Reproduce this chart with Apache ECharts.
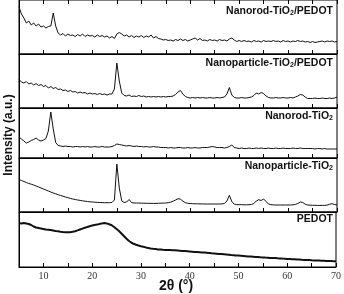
<!DOCTYPE html>
<html>
<head>
<meta charset="utf-8">
<script src="https://cdn.jsdelivr.net/npm/echarts@6/dist/echarts.min.js"></script>
<style>html,body{margin:0;padding:0;background:#fff}#c{width:344px;height:294px}</style>
</head>
<body>
<div id="c"></div>
<script>
// 2θ grid (degrees), 5 → 70 in 0.5° steps
const twoTheta = [];
for (let k = 0; k <= 130; k++) twoTheta.push(5 + k * 0.5);

const xTicks = [10, 20, 30, 40, 50, 60, 70];

const seriesNames = ['Nanorod-TiO2/PEDOT', 'Nanoparticle-TiO2/PEDOT', 'Nanorod-TiO2', 'Nanoparticle-TiO2', 'PEDOT'];

// intensities (a.u.), one value per 2θ point
const nanorodPedot = [
  47, 40, 36, 31, 33, 29, 31, 28, 30, 27,
  28, 26, 27.5, 28, 41, 28, 21, 19, 20.5, 18,
  20, 18.5, 19, 17.5, 19.5, 18, 20, 17.5, 19, 18,
  18.5, 17, 19, 17.5, 18.5, 17, 18, 16, 17.5, 15.5,
  20, 21.5, 20, 18, 19, 17, 18.5, 16.5, 18, 17,
  18.5, 16.5, 18, 17, 19, 16, 17.5, 15.5, 15, 14,
  14.5, 13.5, 14, 13, 14.5, 13.5, 15, 13.5, 14.5, 13,
  14, 15, 16, 14, 15.5, 13.5, 14, 13, 14.5, 13.5,
  14, 13, 14.5, 13.5, 14, 13, 15, 16, 14, 12.5,
  13.5, 12.5, 13.5, 12.5, 13, 12, 13.5, 12.5, 13, 12,
  13.5, 12.5, 13, 12.5, 13.5, 12.5, 13, 12, 13.5, 12.5,
  13, 12, 13, 12.5, 13.5, 12.5, 13, 12, 12.5, 11.5,
  12.5, 11.5, 12, 12.5, 13, 12, 13, 12.5, 13, 12,
  12.5
];
const nanoparticlePedot = [
  28.5, 26, 25, 26.5, 24, 25, 23, 24.5, 22.5, 23.5,
  21.5, 22.5, 20, 21.5, 19.5, 20.5, 18.5, 19, 17.5, 18,
  16.5, 17.5, 16, 16.5, 15, 16, 15, 15.5, 14, 15,
  14, 14.5, 13.5, 14.5, 13.5, 14, 13, 14, 14, 19,
  45, 27, 15, 12.5, 12, 13, 11.5, 12, 11.5, 12.5,
  11.5, 12, 11, 11.5, 11, 11.5, 11, 11.5, 11, 11.5,
  11, 11.5, 11.5, 12, 13.5, 16, 17.5, 14, 11.5, 10.5,
  10, 10.5, 10, 10.5, 10, 10.5, 10, 10, 10.5, 10,
  10, 10.5, 10, 10.5, 11, 14, 20.5, 13, 10.5, 10,
  10, 10.5, 10, 10, 10.5, 11, 12.5, 15, 14, 15.5,
  14.5, 12, 10.5, 10, 10, 10.5, 10, 10, 10.5, 10,
  10, 10.5, 10, 11, 12, 13.5, 13, 11, 9.5, 9.5,
  9.5, 10, 9.5, 9.5, 10, 9.5, 9.5, 10, 9.5, 10,
  11
];
const nanorodTiO2 = [
  21, 19, 17, 15, 16, 17.5, 18.5, 20, 18, 17,
  18, 19.5, 27, 46, 29, 15.5, 12.5, 12, 11.5, 12,
  11.5, 11.5, 11, 11.5, 11.5, 11, 11.5, 11, 11.5, 11,
  11, 11.5, 11, 11, 11.5, 11, 11, 11, 11.5, 12.5,
  14, 13.5, 13, 12.5, 12, 12.5, 12, 11.5, 12, 11.5,
  11.5, 11, 11.5, 11, 11, 11.5, 11, 11, 10.5, 10.5,
  10.5, 10, 10.5, 10, 10, 10.5, 10.5, 10, 10, 10.5,
  10, 10, 10.5, 10, 10, 10.5, 10.5, 10.5, 11, 11.5,
  11, 10.5, 10.5, 10.5, 10, 10.5, 11.5, 13, 10.5, 10,
  9.5, 10, 9.5, 9.5, 10, 9.5, 9.5, 10, 9.5, 10,
  9.5, 9.5, 10, 9.5, 9.5, 10, 9.5, 9.5, 10, 9.5,
  9.5, 9.5, 10, 9.5, 9.5, 10, 9.5, 9.5, 9.5, 9.5,
  9.5, 9, 9.5, 9.5, 9, 9.5, 9, 9, 9, 9,
  9
];
const nanoparticleTiO2 = [
  32.5, 31.5, 30.5, 29.5, 28.5, 27.8, 27, 26, 25, 24,
  23, 22, 21, 20, 19, 18.2, 17.3, 16.5, 15.8, 15,
  14.3, 13.6, 13, 12.5, 12, 11.6, 11.2, 10.8, 10.5, 10.2,
  10, 9.8, 9.6, 9.5, 9.4, 9.3, 9.3, 9.3, 9.5, 12,
  48, 24, 11, 9.5, 10, 12.5, 9.5, 9, 9, 9,
  8.8, 8.8, 8.7, 8.7, 8.6, 8.6, 8.6, 8.7, 8.8, 8.9,
  9, 9.3, 9.8, 10.8, 12, 13.3, 12.8, 10.8, 9.3, 8.7,
  8.4, 8.3, 8.2, 8.2, 8.1, 8.1, 8, 8, 8, 8,
  8, 8, 8, 8.1, 8.5, 11, 16.7, 10.5, 7.8, 7.4,
  7.3, 7.3, 7.2, 7.2, 7.3, 7.5, 8.5, 11, 12.3, 11.5,
  13, 10.5, 8, 7.3, 7.1, 7, 7, 7, 7, 7,
  7, 7, 7.2, 7.6, 8.5, 10, 9.5, 7.8, 7, 6.8,
  6.7, 6.7, 6.6, 6.6, 6.6, 6.7, 6.9, 7.8, 8.3, 7.5,
  7
];
const pedot = [
  44, 43.5, 44, 43.5, 43, 42, 40.5, 39.5, 39, 38.5,
  38, 37.5, 37.3, 37, 36.5, 36, 35.7, 35.3, 35, 34.8,
  34.7, 34.8, 35.2, 35.8, 36.6, 37.5, 38.4, 39.3, 40, 40.8,
  41.5, 42, 42.4, 43, 43.6, 44, 43.6, 42.8, 41.8, 40,
  38, 36, 33.5, 31, 28.5, 26.2, 24.5, 23.2, 22.3, 21.5,
  20.8, 20.2, 19.6, 19.1, 18.6, 18.2, 17.9, 17.6, 17.4, 17.2,
  17.1, 17, 16.9, 16.8, 16.7, 16.5, 16.3, 16.1, 15.9, 15.7,
  15.5, 15.3, 15.1, 15, 14.8, 14.6, 14.4, 14.2, 14, 13.7,
  13.5, 13.3, 13.1, 12.9, 12.7, 12.5, 12.3, 12, 11.8, 11.6,
  11.4, 11.2, 11, 10.8, 10.6, 10.4, 10.2, 10, 9.9, 9.7,
  9.6, 9.4, 9.3, 9.1, 9, 8.9, 8.7, 8.6, 8.4, 8.3,
  8.1, 8, 7.8, 7.7, 7.5, 7.4, 7.2, 7.1, 7, 6.9,
  6.7, 6.6, 6.5, 6.4, 6.3, 6.2, 6.1, 6, 5.9, 5.8,
  5.7
];

const seriesValues = [nanorodPedot, nanoparticlePedot, nanorodTiO2, nanoparticleTiO2, pedot];

// ---- layout (not data) ----
const panelTop = [0, 54, 108, 158, 212];
const panelH = [54, 54, 50, 54, 55];
const lineW = [1, 1, 1, 1, 2];
const labelTop = [5, 57, 110, 160, 214];

const grids = [], xAxes = [], yAxes = [], series = [], titles = [];
const sansBold = "'Liberation Sans', Arial, sans-serif";
const serif = "'Liberation Serif', 'Times New Roman', serif";

function richName(name) {
  return name.replace('TiO2', 'TiO{s|2}');
}

for (let i = 0; i < 5; i++) {
  grids.push({ left: 19, right: 7, top: panelTop[i], height: panelH[i], show: true, borderColor: '#000', borderWidth: 1, backgroundColor: 'transparent' });
  const last = i === 4;
  xAxes.push({
    type: 'value', gridIndex: i, min: 5, max: 70, interval: 5, position: 'bottom',
    axisLine: { show: true, lineStyle: { color: '#000', width: 1 } },
    axisTick: { show: true, inside: true, length: 4, lineStyle: { color: '#000' } },
    axisLabel: last ? {
      show: true, margin: 4, color: '#333', fontFamily: serif, fontSize: 10,
      formatter: v => (xTicks.indexOf(v) >= 0 ? String(v) : '')
    } : { show: false },
    splitLine: { show: false }
  });
  yAxes.push({
    type: 'value', gridIndex: i, min: 0, max: panelH[i],
    axisLine: { show: true, lineStyle: { color: '#000' } },
    axisTick: { show: false }, axisLabel: { show: false }, splitLine: { show: false }
  });
  series.push({
    name: seriesNames[i], type: 'line', xAxisIndex: i, yAxisIndex: i,
    data: twoTheta.map((t, k) => [t, seriesValues[i][k]]),
    showSymbol: false, symbol: 'none', smooth: false,
    lineStyle: { color: '#111', width: lineW[i] }, silent: true, animation: false
  });
  titles.push({
    text: richName(seriesNames[i]), right: 11, top: labelTop[i], padding: 0,
    textStyle: {
      fontFamily: sansBold, fontWeight: 'bold', fontSize: 10.5, color: '#111',
      rich: { s: { fontFamily: sansBold, fontWeight: 'bold', fontSize: 7, color: '#111', verticalAlign: 'bottom', padding: [5, 0, 0, 0] } }
    }
  });
}
// top ticks of the first panel
xAxes.push({
  type: 'value', gridIndex: 0, min: 5, max: 70, interval: 5, position: 'top',
  axisLine: { show: false },
  axisTick: { show: true, inside: true, length: 4, lineStyle: { color: '#000' } },
  axisLabel: { show: false }, splitLine: { show: false }
});

const chart = echarts.init(document.getElementById('c'), null, { renderer: 'canvas' });
chart.setOption({
  animation: false,
  backgroundColor: '#fff',
  title: titles,
  grid: grids,
  xAxis: xAxes,
  yAxis: yAxes,
  series: series,
  graphic: [
    { type: 'text', x: 9, y: 135, rotation: Math.PI / 2,
      style: { text: 'Intensity (a.u.)', fill: '#111', font: "bold 12px 'Liberation Sans', Arial, sans-serif", textAlign: 'center', textVerticalAlign: 'middle' } },
    { type: 'text', x: 176, y: 286,
      style: { text: '2θ (°)', fill: '#111', font: "bold 14px 'Liberation Sans', Arial, sans-serif", textAlign: 'center', textVerticalAlign: 'middle' } }
  ]
});
</script>
</body>
</html>
